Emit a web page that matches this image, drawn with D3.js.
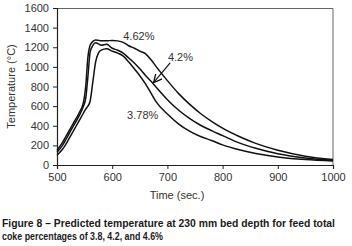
<!DOCTYPE html>
<html>
<head>
<meta charset="utf-8">
<script src="https://cdn.jsdelivr.net/npm/d3@7"></script>
<style>
  body { margin: 0; background: #fff; }
  svg { display: block; font-family: "Liberation Sans", Arial, sans-serif; }
</style>
</head>
<body>
<div id="chart"></div>
<script>
// time (sec.) shared by every series
const times = [500, 510, 520, 530, 540, 548, 552, 556, 560, 565, 570, 575, 580, 590, 600, 610, 620, 630, 640, 650, 660, 670, 680, 700, 720, 740, 760, 780, 800, 830, 860, 900, 950, 1000]

// predicted temperature (°C) per coke percentage
const temp462 = [150, 230, 330, 430, 530, 640, 800, 1100, 1220, 1260, 1275, 1270, 1265, 1265, 1270, 1265, 1250, 1215, 1190, 1160, 1135, 1075, 1000, 860, 730, 620, 525, 445, 375, 290, 220, 150, 90, 55]
const temp42 = [130, 200, 300, 400, 500, 600, 680, 900, 1150, 1220, 1245, 1235, 1220, 1230, 1190, 1170, 1140, 1090, 1040, 980, 915, 855, 790, 665, 560, 475, 405, 350, 300, 225, 170, 115, 72, 48]
const temp378 = [100, 160, 250, 350, 450, 530, 570, 600, 650, 850, 1050, 1140, 1170, 1185, 1160, 1140, 1110, 1050, 980, 910, 830, 735, 640, 520, 420, 345, 290, 250, 205, 155, 118, 82, 55, 42]

const xTicks = [500, 600, 700, 800, 900, 1000]
const yTicks = [0, 200, 400, 600, 800, 1000, 1200, 1400, 1600]

// labels placed in data units
const labels = [
  { text: '4.62%', t: 620, v: 1274 },
  { text: '4.2%', t: 701, v: 1060 },
  { text: '3.78%', t: 627, v: 469 }
]
const arrow = { t1: 705, v1: 1040, t2: 676, v2: 846 }

const width = 352, height = 246
const margin = { top: 8, right: 19, bottom: 81, left: 57 }
const w = width - margin.left - margin.right
const h = height - margin.top - margin.bottom

const svg = d3.select('#chart').append('svg')
  .attr('width', width)
  .attr('height', height)

svg.append('defs').append('marker')
  .attr('id', 'head')
  .attr('viewBox', '0 0 10 10')
  .attr('refX', 9).attr('refY', 5)
  .attr('markerWidth', 7).attr('markerHeight', 7)
  .attr('orient', 'auto')
  .append('path')
    .attr('d', 'M0,0 L10,5 L0,10')
    .attr('fill', 'none')
    .attr('stroke', '#111')
    .attr('stroke-width', 1.6)

const g = svg.append('g')
  .attr('transform', 'translate(' + margin.left + ',' + margin.top + ')')

const x = d3.scaleLinear().domain([500, 1000]).range([0, w])
const y = d3.scaleLinear().domain([0, 1600]).range([h, 0])

// frame: top and right
g.append('path')
  .attr('d', 'M0,0.5 H' + w + ' V' + h)
  .attr('fill', 'none')
  .attr('stroke', '#666')
  .attr('stroke-width', 1)

const xAxis = g.append('g')
  .attr('transform', 'translate(0,' + h + ')')
  .call(d3.axisBottom(x).tickValues(xTicks).tickSize(4).tickPadding(4).tickFormat(d3.format('d')))
const yAxis = g.append('g')
  .call(d3.axisLeft(y).tickValues(yTicks).tickSize(4).tickPadding(4).tickFormat(d3.format('d')))

;[xAxis, yAxis].forEach(a => {
  a.select('.domain').attr('stroke', '#222').attr('stroke-width', 1.2)
  a.selectAll('.tick line').attr('stroke', '#222')
  a.selectAll('.tick text').attr('fill', '#333').style('font-size', '11px')
})

const line = d3.line()
  .x((d, i) => x(times[i]))
  .y(d => y(d))
  .curve(d3.curveMonotoneX)

g.selectAll('.series')
  .data([temp462, temp42, temp378])
  .enter().append('path')
    .attr('class', 'series')
    .attr('d', line)
    .attr('fill', 'none')
    .attr('stroke', '#111')
    .attr('stroke-width', 1.5)

g.selectAll('.lbl')
  .data(labels)
  .enter().append('text')
    .attr('class', 'lbl')
    .attr('x', d => x(d.t))
    .attr('y', d => y(d.v))
    .attr('fill', '#333')
    .style('font-size', '11px')
    .text(d => d.text)

g.append('line')
  .attr('x1', x(arrow.t1)).attr('y1', y(arrow.v1))
  .attr('x2', x(arrow.t2)).attr('y2', y(arrow.v2))
  .attr('stroke', '#111')
  .attr('stroke-width', 1.2)
  .attr('marker-end', 'url(#head)')

// axis titles
svg.append('text')
  .attr('x', 177).attr('y', 199)
  .attr('text-anchor', 'middle')
  .attr('fill', '#333')
  .style('font-size', '11px')
  .text('Time (sec.)')

svg.append('text')
  .attr('transform', 'translate(15,' + (margin.top + h / 2) + ') rotate(-90)')
  .attr('text-anchor', 'middle')
  .attr('fill', '#333')
  .style('font-size', '11px')
  .text('Temperature (°C)')

// caption
const cap = svg.append('g')
  .attr('fill', '#1a1a1a')
  .style('font-weight', 'bold')
  .style('font-size', '10.5px')
  .style('font-family', '"Liberation Sans Narrow", "Liberation Sans", Arial, sans-serif')
cap.append('text').attr('x', 2).attr('y', 227)
  .attr('textLength', 333).attr('lengthAdjust', 'spacingAndGlyphs')
  .text('Figure 8 – Predicted temperature at 230 mm bed depth for feed total')
cap.append('text').attr('x', 2).attr('y', 240)
  .attr('textLength', 161).attr('lengthAdjust', 'spacingAndGlyphs')
  .text('coke percentages of 3.8, 4.2, and 4.6%')
</script>
</body>
</html>
